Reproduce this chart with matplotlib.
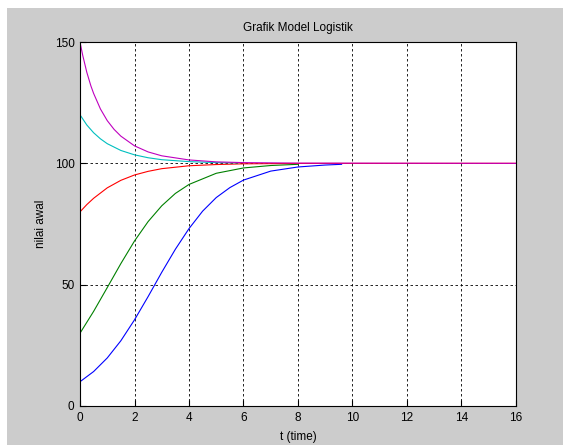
import matplotlib
matplotlib.use("Agg")
import matplotlib.pyplot as plt
from matplotlib.patches import Rectangle

# values
t_blue = [0, 0.5, 1, 1.5, 2, 2.5, 3, 3.5, 4, 4.5, 5, 5.5, 6, 7, 8, 9, 9.6]
p_blue = [10, 14.2, 19.8, 26.9, 35.5, 45.1, 55.1, 64.6, 73.1, 80.3, 85.9, 90.0, 93.1, 96.8, 98.5, 99.3, 99.6]

t_green = [0, 0.5, 1, 1.5, 2, 2.5, 3, 3.5, 4, 5, 6, 7, 8]
p_green = [30, 39.0, 48.8, 58.7, 68.0, 76.0, 82.5, 87.6, 91.3, 95.9, 98.1, 99.1, 99.6]

t_red = [0, 0.25, 0.5, 1, 1.5, 2, 2.5, 3, 4, 5, 6, 8, 16]
p_red = [80, 83.0, 85.6, 89.9, 93.0, 95.2, 96.7, 97.8, 99.0, 99.5, 99.8, 99.96, 100]

t_cyan = [0, 0.25, 0.5, 0.75, 1, 1.5, 2, 2.5, 3, 4, 5, 5.8]
p_cyan = [120, 115.8, 112.6, 110.1, 108.1, 105.3, 103.5, 102.3, 101.5, 100.7, 100.3, 100.2]

t_mag = [0, 0.1, 0.25, 0.4, 0.5, 0.75, 1, 1.25, 1.5, 2, 2.5, 3, 4, 5, 6, 8, 16]
p_mag = [150, 144.5, 137.5, 131.9, 128.8, 122.4, 117.6, 114.0, 111.2, 107.2, 104.7, 103.1, 101.4, 100.6, 100.3, 100.1, 100]

xticks = [0, 2, 4, 6, 8, 10, 12, 14, 16]
yticks = [0, 50, 100, 150]

plt.rcParams['font.family'] = ['Liberation Sans', 'DejaVu Sans']
plt.rcParams['font.size'] = 8.5

W, H = 563, 447
fig = plt.figure(figsize=(W / 100, H / 100), dpi=100)
fig.patch.set_facecolor('white')
bg = Rectangle((7 / W, 2 / H), 556 / W, 437 / H, transform=fig.transFigure,
               facecolor='#cccccc', edgecolor='none', zorder=-10)
fig.add_artist(bg)

ax = fig.add_axes([80 / W, 41 / H, 436 / W, 364 / H])
ax.set_zorder(1)
ax.set_facecolor('white')

ax.plot(t_blue, p_blue, color=(0, 0, 1), lw=0.8)
ax.plot(t_green, p_green, color=(0, 0.5, 0), lw=0.8)
ax.plot(t_red, p_red, color=(1, 0, 0), lw=0.8)
ax.plot(t_cyan, p_cyan, color=(0, 0.75, 0.75), lw=0.8)
ax.plot(t_mag, p_mag, color=(0.75, 0, 0.75), lw=0.8)

ax.set_xlim(0, 16)
ax.set_ylim(0, 150)
ax.set_xticks(xticks)
ax.set_yticks(yticks)
ax.tick_params(direction='in', length=4, width=0.8, pad=4, labelsize=8.5)
ax.grid(True, color='black', linestyle=(0, (3, 3)), linewidth=0.6)
for s in ax.spines.values():
    s.set_linewidth(0.8)

ax.set_title("Grafik Model Logistik", fontsize=8.5, pad=8)
ax.set_xlabel("t (time)", fontsize=8.5, va='center')
ax.xaxis.set_label_coords(0.5, -0.085)
ax.set_ylabel("nilai awal", fontsize=8.5, va='center')
ax.yaxis.set_label_coords(-0.0894, 0.5)

plt.savefig("out.png", dpi=100, facecolor=fig.get_facecolor())
